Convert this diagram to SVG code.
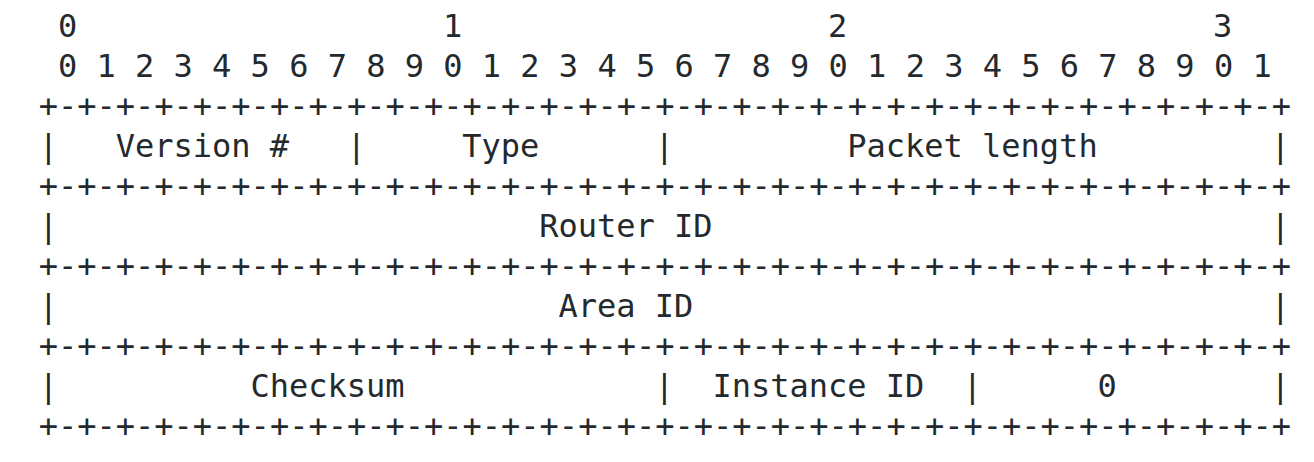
<svg xmlns="http://www.w3.org/2000/svg" width="1314" height="462" viewBox="0 0 1314 462">
<style>
text { font-family: "DejaVu Sans Mono", "Liberation Mono", monospace; font-size: 32px; fill: #24292e; }
</style>
<rect width="1314" height="462" fill="#ffffff"/>
<g id="bit-scale">
  <text x="57.95" y="37">0</text>
  <text x="442.95" y="37">1</text>
  <text x="827.95" y="37">2</text>
  <text x="1212.95" y="37">3</text>
  <text x="57.95" y="77">0 1 2 3 4 5 6 7 8 9 0 1 2 3 4 5 6 7 8 9 0 1 2 3 4 5 6 7 8 9 0 1</text>
</g>
<g id="connectors">
  <text x="38.7" y="117">+-+-+-+-+-+-+-+-+-+-+-+-+-+-+-+-+-+-+-+-+-+-+-+-+-+-+-+-+-+-+-+-+</text>
  <text x="38.7" y="197">+-+-+-+-+-+-+-+-+-+-+-+-+-+-+-+-+-+-+-+-+-+-+-+-+-+-+-+-+-+-+-+-+</text>
  <text x="38.7" y="277">+-+-+-+-+-+-+-+-+-+-+-+-+-+-+-+-+-+-+-+-+-+-+-+-+-+-+-+-+-+-+-+-+</text>
  <text x="38.7" y="357">+-+-+-+-+-+-+-+-+-+-+-+-+-+-+-+-+-+-+-+-+-+-+-+-+-+-+-+-+-+-+-+-+</text>
  <text x="38.7" y="437">+-+-+-+-+-+-+-+-+-+-+-+-+-+-+-+-+-+-+-+-+-+-+-+-+-+-+-+-+-+-+-+-+</text>
  <text x="38.7" y="157">|</text>
  <text x="346.7" y="157">|</text>
  <text x="654.7" y="157">|</text>
  <text x="1270.7" y="157">|</text>
  <text x="38.7" y="237">|</text>
  <text x="1270.7" y="237">|</text>
  <text x="38.7" y="317">|</text>
  <text x="1270.7" y="317">|</text>
  <text x="38.7" y="397">|</text>
  <text x="654.7" y="397">|</text>
  <text x="962.7" y="397">|</text>
  <text x="1270.7" y="397">|</text>
</g>
<g id="version"><text x="115.7" y="157">Version #</text></g>
<g id="type"><text x="462.2" y="157">Type</text></g>
<g id="packet-length"><text x="847.2" y="157">Packet length</text></g>
<g id="router-id"><text x="539.2" y="237">Router ID</text></g>
<g id="area-id"><text x="558.45" y="317">Area ID</text></g>
<g id="checksum"><text x="250.45" y="397">Checksum</text></g>
<g id="instance-id"><text x="712.45" y="397">Instance ID</text></g>
<g id="reserved"><text x="1097.45" y="397">0</text></g>
</svg>
